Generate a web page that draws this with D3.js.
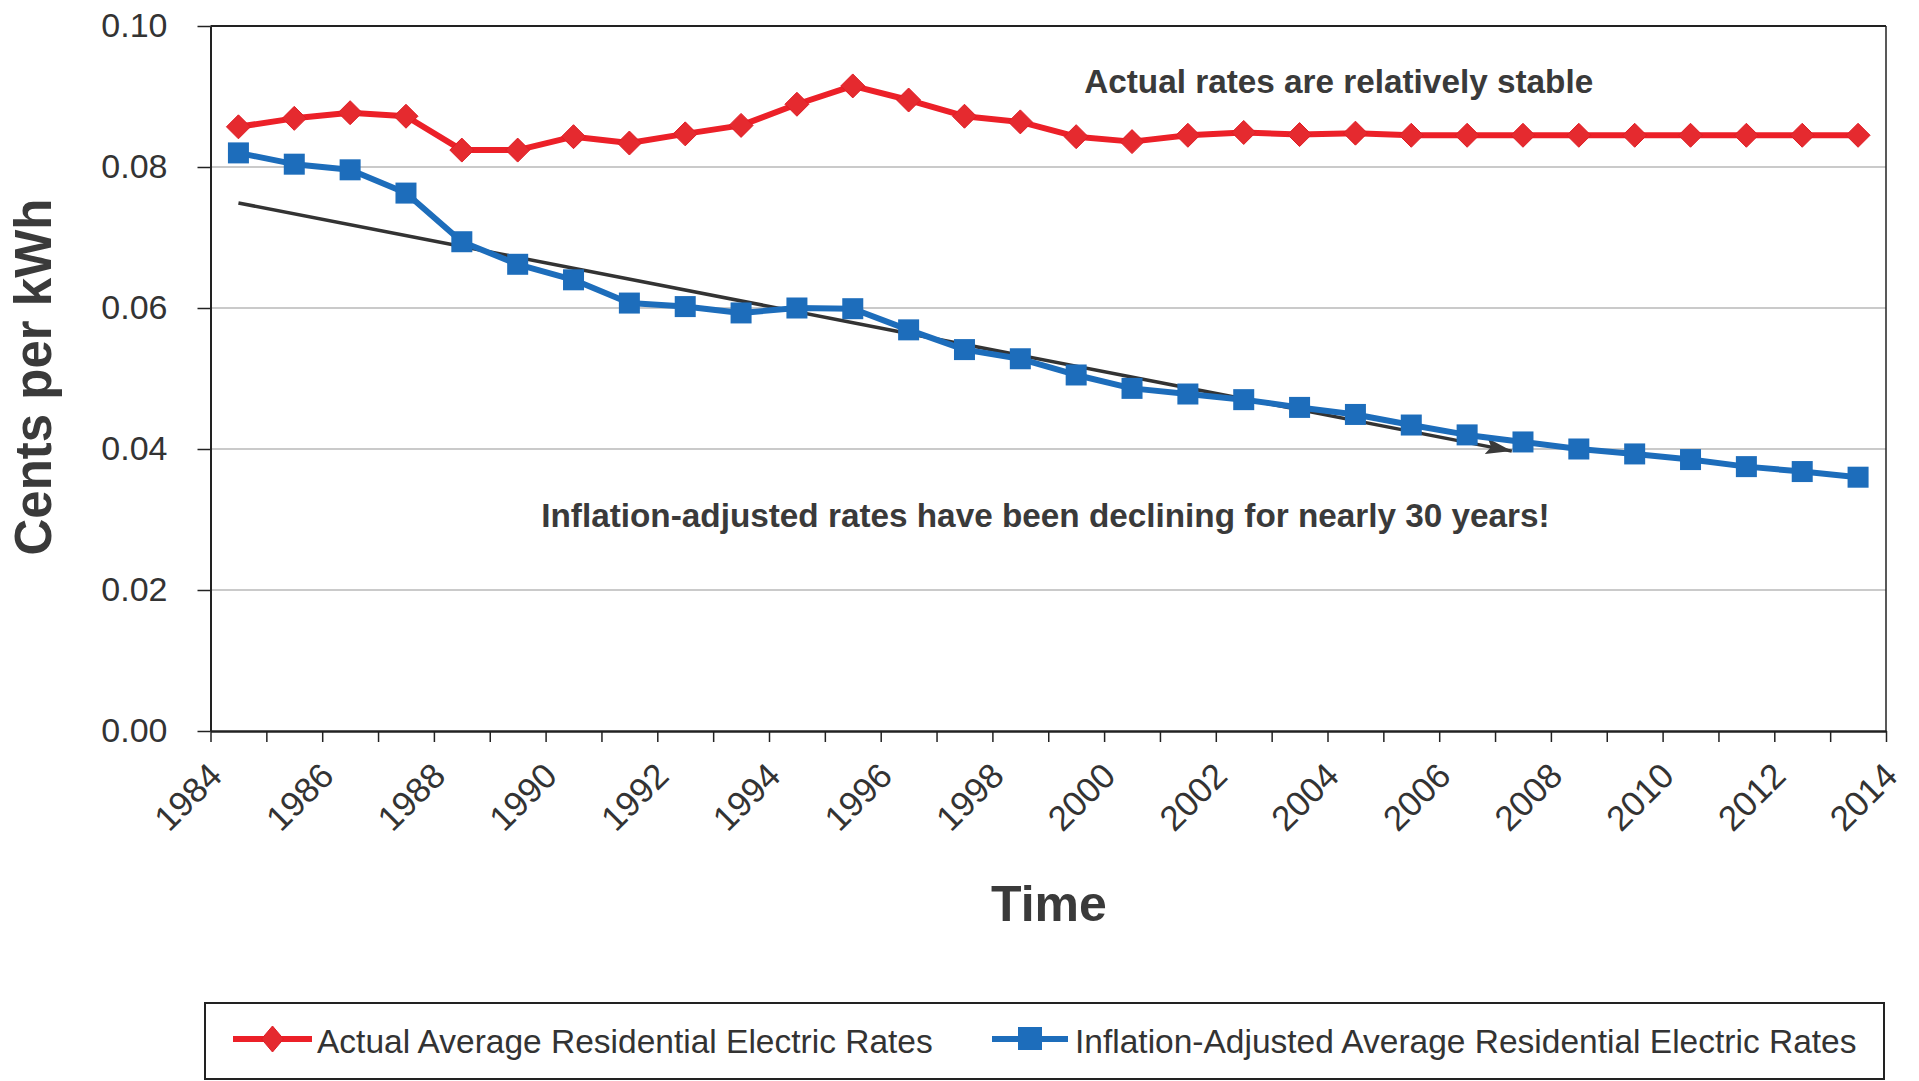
<!DOCTYPE html>
<html>
<head>
<meta charset="utf-8">
<script src="https://cdn.jsdelivr.net/npm/d3@7"></script>
<style>
body { margin: 0; background: #fff; }
svg { display: block; font-family: "Liberation Sans", Arial, sans-serif; }
</style>
</head>
<body>
<div class="chart_container"></div>
<script>
// data
const years = [1984, 1985, 1986, 1987, 1988, 1989, 1990, 1991, 1992, 1993,
               1994, 1995, 1996, 1997, 1998, 1999, 2000, 2001, 2002, 2003,
               2004, 2005, 2006, 2007, 2008, 2009, 2010, 2011, 2012, 2013]
const actualRates = [0.0857, 0.0869, 0.0877, 0.0872, 0.0824, 0.0824, 0.0843, 0.0834, 0.0847, 0.0859,
                     0.0889, 0.0915, 0.0895, 0.0872, 0.0864, 0.0843, 0.0836, 0.0845, 0.0849, 0.0846,
                     0.0848, 0.0845, 0.0845, 0.0845, 0.0845, 0.0845, 0.0845, 0.0845, 0.0845, 0.0845]
const adjustedRates = [0.0820, 0.0804, 0.0796, 0.0763, 0.0694, 0.0662, 0.0640, 0.0607, 0.0602, 0.0593,
                       0.0600, 0.0599, 0.0569, 0.0541, 0.0528, 0.0505, 0.0486, 0.0478, 0.0470, 0.0459,
                       0.0449, 0.0434, 0.0420, 0.0410, 0.0400, 0.0393, 0.0385, 0.0375, 0.0368, 0.0360]
const trendLine = [{year: 1984.5, rate: 0.0749}, {year: 2007.3, rate: 0.0397}]
const yTickValues = [0, 0.02, 0.04, 0.06, 0.08, 0.10]
const xTickYears = [1984, 1985, 1986, 1987, 1988, 1989, 1990, 1991, 1992, 1993, 1994, 1995, 1996,
                    1997, 1998, 1999, 2000, 2001, 2002, 2003, 2004, 2005, 2006, 2007, 2008, 2009,
                    2010, 2011, 2012, 2013, 2014]
const xTickLabels = [1984, 1986, 1988, 1990, 1992, 1994, 1996, 1998, 2000, 2002, 2004, 2006, 2008,
                     2010, 2012, 2014]
const seriesNames = ['Actual Average Residential Electric Rates',
                     'Inflation-Adjusted Average Residential Electric Rates']
const notes = [
    {text: 'Actual rates are relatively stable', year: 2004.2, rate: 0.0905},
    {text: 'Inflation-adjusted rates have been declining for nearly 30 years!', year: 1998.95, rate: 0.0289}
]

const RED = '#ec2028'
const BLUE = '#1d6dbb'
const TEXT = '#333'

const svg_width = 1919
const svg_height = 1081
const plot = {left: 210.5, right: 1886, top: 26, bottom: 731}

const svg = d3.select('.chart_container').append('svg')
    .attr('width', svg_width).attr('height', svg_height)

svg.append('rect').attr('width', svg_width).attr('height', svg_height).attr('fill', '#fff')

// scales
const xScale = d3.scaleLinear().domain([1984, 2014]).range([plot.left, plot.right])
const yScale = d3.scaleLinear().domain([0, 0.10]).range([plot.bottom, plot.top])

// gridlines
svg.append('g').selectAll('line').data(yTickValues.filter(d => d > 0 && d < 0.10))
    .enter().append('line')
    .attr('x1', plot.left).attr('x2', plot.right)
    .attr('y1', d => yScale(d)).attr('y2', d => yScale(d))
    .attr('stroke', '#b8b8b8').attr('stroke-width', 1.5)

// frame top / right
svg.append('line').attr('x1', plot.left).attr('x2', plot.right)
    .attr('y1', yScale(0.10)).attr('y2', yScale(0.10))
    .attr('stroke', '#222').attr('stroke-width', 2)
svg.append('line').attr('x1', plot.right).attr('x2', plot.right)
    .attr('y1', plot.top).attr('y2', plot.bottom)
    .attr('stroke', '#222').attr('stroke-width', 1.5)

// y axis
const yAxis = d3.axisLeft(yScale).tickValues(yTickValues)
    .tickFormat(d3.format('.2f')).tickSize(13).tickSizeOuter(0).tickPadding(30)
const yAxisDraw = svg.append('g').attr('transform', `translate(${plot.left},0)`).call(yAxis)
yAxisDraw.select('.domain').attr('stroke', '#222').attr('stroke-width', 2)
yAxisDraw.selectAll('.tick line').attr('stroke', '#222').attr('stroke-width', 1.5)
yAxisDraw.selectAll('text').style('font-size', '34px').attr('fill', TEXT)
    .style('font-family', '"Liberation Sans", Arial, sans-serif')

// x axis
const xAxis = d3.axisBottom(xScale).tickValues(xTickYears)
    .tickFormat(d => xTickLabels.includes(d) ? d : '')
    .tickSize(11).tickSizeOuter(0)
const xAxisDraw = svg.append('g').attr('transform', `translate(0,${plot.bottom})`).call(xAxis)
xAxisDraw.select('.domain').attr('stroke', '#222').attr('stroke-width', 2.5)
xAxisDraw.selectAll('.tick line').attr('stroke', '#222').attr('stroke-width', 1.5)
xAxisDraw.selectAll('text')
    .attr('x', 0).attr('y', 0).attr('dy', 0)
    .attr('transform', 'translate(13,47) rotate(-45)')
    .style('text-anchor', 'end').style('font-size', '35px').attr('fill', TEXT)
    .style('font-family', '"Liberation Sans", Arial, sans-serif')

// trend arrow
svg.append('defs').append('marker')
    .attr('id', 'arrow').attr('viewBox', '0 0 26 16')
    .attr('refX', 26).attr('refY', 8)
    .attr('markerUnits', 'userSpaceOnUse')
    .attr('markerWidth', 26).attr('markerHeight', 16)
    .attr('orient', 'auto')
    .append('path').attr('d', 'M0,0 L26,8 L0,16 L5,8 z').attr('fill', '#3a3a3a')

svg.append('path').datum(trendLine)
    .attr('d', d3.line().x(d => xScale(d.year)).y(d => yScale(d.rate)))
    .attr('fill', 'none').attr('stroke', '#333').attr('stroke-width', 3.5)
    .attr('marker-end', 'url(#arrow)')

// series
const diamond = s => `M0,${-s}L${s},0L0,${s}L${-s},0Z`
const series = [
    {name: seriesNames[0], values: actualRates, color: RED, shape: 'diamond'},
    {name: seriesNames[1], values: adjustedRates, color: BLUE, shape: 'square'}
]

const lineGen = d3.line().x(d => xScale(d.year + 0.5)).y(d => yScale(d.rate))

series.forEach(s => {
    const pts = years.map((y, i) => ({year: y, rate: s.values[i]}))
    svg.append('path').datum(pts)
        .attr('d', lineGen)
        .attr('fill', 'none').attr('stroke', s.color).attr('stroke-width', 6)
        .attr('stroke-linejoin', 'round')
    const g = svg.append('g')
    if (s.shape === 'diamond') {
        g.selectAll('path').data(pts).enter().append('path')
            .attr('d', diamond(12))
            .attr('transform', d => `translate(${xScale(d.year + 0.5)},${yScale(d.rate)})`)
            .attr('fill', '#e52a2f').attr('stroke', '#e01c24').attr('stroke-width', 1)
    } else {
        g.selectAll('rect').data(pts).enter().append('rect')
            .attr('x', d => xScale(d.year + 0.5) - 10.5)
            .attr('y', d => yScale(d.rate) - 10.5)
            .attr('width', 21).attr('height', 21)
            .attr('fill', BLUE)
    }
})

// annotations
svg.append('g').selectAll('text').data(notes).enter().append('text')
    .attr('x', d => xScale(d.year)).attr('y', d => yScale(d.rate))
    .attr('text-anchor', 'middle')
    .style('font-size', '33.3px').style('font-weight', 'bold').attr('fill', '#3a3a3a')
    .text(d => d.text)

// axis titles
svg.append('text')
    .attr('transform', `translate(51,377) rotate(-90)`)
    .attr('text-anchor', 'middle')
    .style('font-size', '51px').style('font-weight', 'bold').attr('fill', '#3a3a3a')
    .text('Cents per kWh')

svg.append('text')
    .attr('x', 1049).attr('y', 921)
    .attr('text-anchor', 'middle')
    .style('font-size', '50px').style('font-weight', 'bold').attr('fill', '#3a3a3a')
    .text('Time')

// legend
const legend = svg.append('g')
legend.append('rect')
    .attr('x', 205).attr('y', 1003).attr('width', 1679).attr('height', 76)
    .attr('fill', '#fff').attr('stroke', '#222').attr('stroke-width', 2)

const legendItems = [
    {name: seriesNames[0], color: RED, shape: 'diamond', x0: 233, x1: 312, tx: 317},
    {name: seriesNames[1], color: BLUE, shape: 'square', x0: 992, x1: 1068, tx: 1075}
]
legendItems.forEach(d => {
    const cy = 1039
    legend.append('line').attr('x1', d.x0).attr('x2', d.x1).attr('y1', cy).attr('y2', cy)
        .attr('stroke', d.color).attr('stroke-width', 6)
    const cx = (d.x0 + d.x1) / 2
    if (d.shape === 'diamond') {
        legend.append('path').attr('d', `M0,-13L11,0L0,13L-11,0Z`)
            .attr('transform', `translate(${cx},${cy})`)
            .attr('fill', '#e52a2f').attr('stroke', '#e01c24')
    } else {
        legend.append('rect').attr('x', cx - 12).attr('y', cy - 12)
            .attr('width', 24).attr('height', 23).attr('fill', d.color)
    }
    legend.append('text').attr('x', d.tx).attr('y', 1053)
        .style('font-size', '33.5px').attr('fill', TEXT)
        .text(d.name)
})
</script>
</body>
</html>
